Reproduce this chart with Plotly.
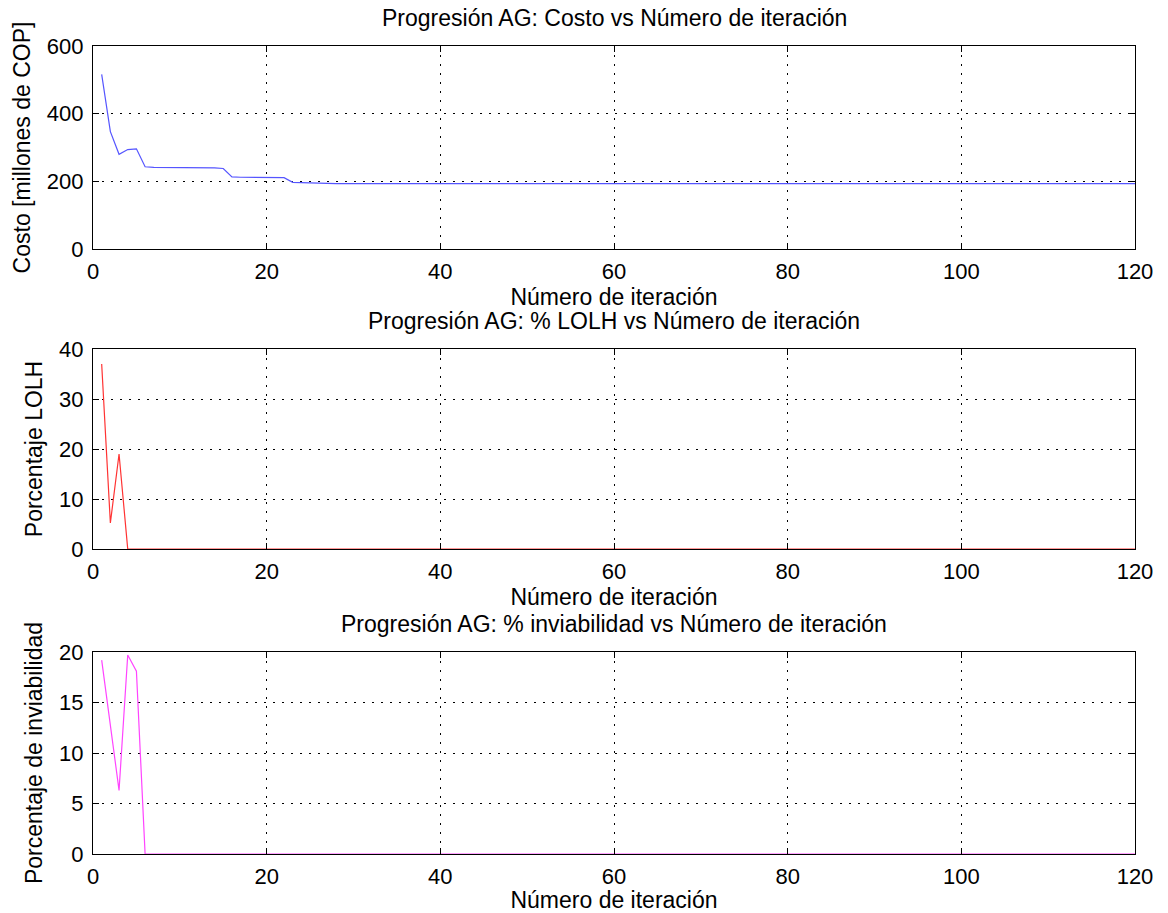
import plotly.graph_objects as go

iterations = list(range(1, 121))

costo = ([516, 347, 280, 294, 296, 243, 241, 241, 241, 241, 241, 241, 241, 240, 238,
          213, 212, 212, 212, 212, 212, 211, 197, 196, 195] + [193] * 95)
lolh = [37, 5.2, 19] + [0] * 117
inviab = [19.2, 12.8, 6.3, 19.7, 18.1] + [0] * 115

titles = ["Progresión AG: Costo vs Número de iteración",
          "Progresión AG: % LOLH vs Número de iteración",
          "Progresión AG: % inviabilidad vs Número de iteración"]
ylabels = ["Costo [millones de COP]", "Porcentaje LOLH", "Porcentaje de inviabilidad"]
xlabel = "Número de iteración"
x_ticks = [0, 20, 40, 60, 80, 100, 120]
y_ticks = [[0, 200, 400, 600], [0, 10, 20, 30, 40], [0, 5, 10, 15, 20]]
y_ranges = [[0, 600], [0, 40], [0, 20]]
colors = ["#5555ff", "#ff3333", "#ff44ff"]

W, H = 1168, 913
x0, x1 = 93, 1135
boxes = [(46, 249), (349, 549), (652, 854)]

fig = go.Figure()
tfont = dict(family="Liberation Sans, Arial, sans-serif", size=22, color="black")
font = dict(family="Liberation Sans, Arial, sans-serif", size=23, color="black")

series = [costo, lolh, inviab]
for i in range(3):
    n = "" if i == 0 else str(i + 1)
    top, bot = boxes[i]
    fig.add_trace(go.Scatter(x=iterations, y=series[i], mode="lines",
                             line=dict(color=colors[i], width=1.2),
                             xaxis="x" + n, yaxis="y" + n, showlegend=False))
    axis_common = dict(showline=True, linecolor="black", linewidth=1.3, mirror="ticks",
                       ticks="inside", ticklen=6, tickcolor="black", tickwidth=1,
                       showgrid=True, gridcolor="black", griddash="2px,7px", gridwidth=1.2,
                       zeroline=False, tickfont=tfont, automargin=False)
    fig.update_layout(**{
        "xaxis" + n: dict(domain=[x0 / W, x1 / W], range=[0, 120], tickvals=x_ticks,
                          anchor="y" + n, title=dict(text=xlabel, font=font, standoff=6),
                          ticklabelstandoff=2, **axis_common),
        "yaxis" + n: dict(domain=[1 - bot / H, 1 - top / H], range=y_ranges[i],
                          tickvals=y_ticks[i], anchor="x" + n,
                          title=dict(text=ylabels[i], font=font, standoff=9),
                          ticklabelstandoff=4, **axis_common),
    })
    fig.add_annotation(text=titles[i], x=(x0 + x1) / 2 / W, y=1 - (top - 13) / H,
                       xref="paper", yref="paper", xanchor="center", yanchor="bottom",
                       showarrow=False, font=font)

fig.update_layout(width=W, height=H, margin=dict(l=0, r=0, t=0, b=0),
                  paper_bgcolor="white", plot_bgcolor="white", font=font)

fig.write_html("out.html")
